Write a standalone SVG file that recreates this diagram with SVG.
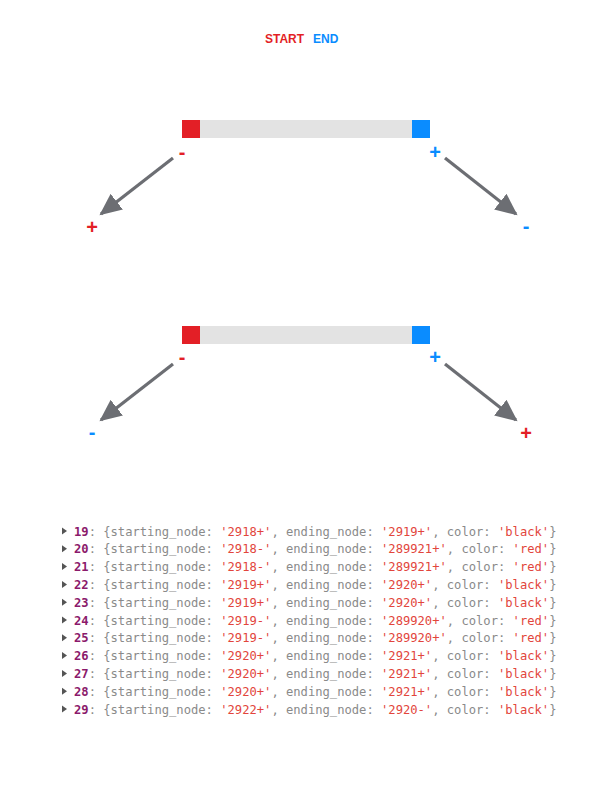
<svg xmlns="http://www.w3.org/2000/svg" width="612" height="792" viewBox="0 0 612 792">
  <style>
    .title { font-family: "Liberation Sans", Arial, sans-serif; font-weight: bold; font-size: 12px; }
    .sign { font-family: "Liberation Sans", Arial, sans-serif; font-weight: bold; font-size: 20px; text-anchor: middle; }
    .red { fill: #e31f26; }
    .blue { fill: #0a8cff; }
    .track { fill: #e3e3e3; }
    .edge { stroke: #6c6e73; stroke-width: 3.2; fill: none; marker-end: url(#head); }
    .log { font-family: "DejaVu Sans Mono", "Liberation Mono", monospace; font-size: 12.15px; fill: #8a8a8a; }
    .idx { fill: #8b1a6b; font-weight: bold; }
    .str { fill: #e2453c; }
    .tri { fill: #555; }
  </style>
  <defs>
    <marker id="head" markerUnits="userSpaceOnUse" markerWidth="24" markerHeight="22" refX="20" refY="10" orient="auto">
      <path d="M0,0 L22,10 L0,20 Z" fill="#6c6e73"/>
    </marker>
  </defs>

  <!-- legend -->
  <g id="legend">
    <text class="title red" x="265" y="43">START</text>
    <text class="title blue" x="313" y="43">END</text>
  </g>

  <!-- first segment: forward orientation -->
  <g id="segment1">
    <rect class="track" x="200" y="120" width="212" height="18"/>
    <rect class="red" x="182" y="120" width="18" height="18"/>
    <rect class="blue" x="412" y="120" width="18" height="18"/>
    <text class="sign red" x="182" y="159">-</text>
    <text class="sign blue" x="435" y="159">+</text>
  </g>
  <g id="end1-left">
    <text class="sign red" x="92" y="234">+</text>
  </g>
  <g id="end1-right">
    <text class="sign blue" x="526" y="233">-</text>
  </g>

  <!-- second segment: reversed far ends -->
  <g id="segment2">
    <rect class="track" x="200" y="326" width="212" height="18"/>
    <rect class="red" x="182" y="326" width="18" height="18"/>
    <rect class="blue" x="412" y="326" width="18" height="18"/>
    <text class="sign red" x="182" y="364">-</text>
    <text class="sign blue" x="435" y="364">+</text>
  </g>
  <g id="end2-left">
    <text class="sign blue" x="92" y="439">-</text>
  </g>
  <g id="end2-right">
    <text class="sign red" x="526" y="440">+</text>
  </g>

  <!-- connectors -->
  <g id="connectors">
    <line class="edge" x1="173" y1="158" x2="101" y2="214"/>
    <line class="edge" x1="445" y1="158" x2="516" y2="214"/>
    <line class="edge" x1="173" y1="364" x2="101" y2="420"/>
    <line class="edge" x1="445" y1="364" x2="516" y2="420"/>
  </g>

  <!-- console listing of edges -->
  <g id="console" class="log">
    <g transform="translate(0,535.5)">
      <path class="tri" d="M62,-8 L67,-4.5 L62,-1 Z"/>
      <text x="74" y="0"><tspan class="idx">19</tspan>: {starting_node: <tspan class="str">'2918+'</tspan>, ending_node: <tspan class="str">'2919+'</tspan>, color: <tspan class="str">'black'</tspan>}</text>
    </g>
    <g transform="translate(0,553.3)">
      <path class="tri" d="M62,-8 L67,-4.5 L62,-1 Z"/>
      <text x="74" y="0"><tspan class="idx">20</tspan>: {starting_node: <tspan class="str">'2918-'</tspan>, ending_node: <tspan class="str">'289921+'</tspan>, color: <tspan class="str">'red'</tspan>}</text>
    </g>
    <g transform="translate(0,571.1)">
      <path class="tri" d="M62,-8 L67,-4.5 L62,-1 Z"/>
      <text x="74" y="0"><tspan class="idx">21</tspan>: {starting_node: <tspan class="str">'2918-'</tspan>, ending_node: <tspan class="str">'289921+'</tspan>, color: <tspan class="str">'red'</tspan>}</text>
    </g>
    <g transform="translate(0,588.9)">
      <path class="tri" d="M62,-8 L67,-4.5 L62,-1 Z"/>
      <text x="74" y="0"><tspan class="idx">22</tspan>: {starting_node: <tspan class="str">'2919+'</tspan>, ending_node: <tspan class="str">'2920+'</tspan>, color: <tspan class="str">'black'</tspan>}</text>
    </g>
    <g transform="translate(0,606.7)">
      <path class="tri" d="M62,-8 L67,-4.5 L62,-1 Z"/>
      <text x="74" y="0"><tspan class="idx">23</tspan>: {starting_node: <tspan class="str">'2919+'</tspan>, ending_node: <tspan class="str">'2920+'</tspan>, color: <tspan class="str">'black'</tspan>}</text>
    </g>
    <g transform="translate(0,624.5)">
      <path class="tri" d="M62,-8 L67,-4.5 L62,-1 Z"/>
      <text x="74" y="0"><tspan class="idx">24</tspan>: {starting_node: <tspan class="str">'2919-'</tspan>, ending_node: <tspan class="str">'289920+'</tspan>, color: <tspan class="str">'red'</tspan>}</text>
    </g>
    <g transform="translate(0,642.3)">
      <path class="tri" d="M62,-8 L67,-4.5 L62,-1 Z"/>
      <text x="74" y="0"><tspan class="idx">25</tspan>: {starting_node: <tspan class="str">'2919-'</tspan>, ending_node: <tspan class="str">'289920+'</tspan>, color: <tspan class="str">'red'</tspan>}</text>
    </g>
    <g transform="translate(0,660.1)">
      <path class="tri" d="M62,-8 L67,-4.5 L62,-1 Z"/>
      <text x="74" y="0"><tspan class="idx">26</tspan>: {starting_node: <tspan class="str">'2920+'</tspan>, ending_node: <tspan class="str">'2921+'</tspan>, color: <tspan class="str">'black'</tspan>}</text>
    </g>
    <g transform="translate(0,677.9)">
      <path class="tri" d="M62,-8 L67,-4.5 L62,-1 Z"/>
      <text x="74" y="0"><tspan class="idx">27</tspan>: {starting_node: <tspan class="str">'2920+'</tspan>, ending_node: <tspan class="str">'2921+'</tspan>, color: <tspan class="str">'black'</tspan>}</text>
    </g>
    <g transform="translate(0,695.7)">
      <path class="tri" d="M62,-8 L67,-4.5 L62,-1 Z"/>
      <text x="74" y="0"><tspan class="idx">28</tspan>: {starting_node: <tspan class="str">'2920+'</tspan>, ending_node: <tspan class="str">'2921+'</tspan>, color: <tspan class="str">'black'</tspan>}</text>
    </g>
    <g transform="translate(0,713.5)">
      <path class="tri" d="M62,-8 L67,-4.5 L62,-1 Z"/>
      <text x="74" y="0"><tspan class="idx">29</tspan>: {starting_node: <tspan class="str">'2922+'</tspan>, ending_node: <tspan class="str">'2920-'</tspan>, color: <tspan class="str">'black'</tspan>}</text>
    </g>
  </g>
</svg>
